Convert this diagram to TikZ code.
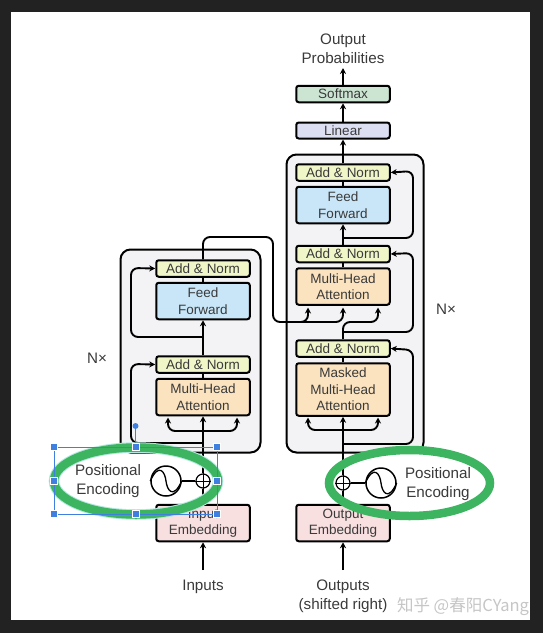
\documentclass[tikz,border=0pt]{standalone}
\usepackage{fontspec}
\setmainfont{Liberation Sans}
\newfontfamily\cjk{Noto Sans CJK SC}
\usepackage{xcolor}
\usetikzlibrary{arrows.meta,positioning,calc,shapes.geometric}
\definecolor{frameC}{HTML}{222222}
\definecolor{textC}{HTML}{3A3A3A}
\definecolor{normC}{HTML}{F0F6C8}
\definecolor{feedC}{HTML}{C8E6F8}
\definecolor{attnC}{HTML}{FBE3BF}
\definecolor{embC}{HTML}{F8DFE0}
\definecolor{softC}{HTML}{CBE5D2}
\definecolor{linC}{HTML}{DCDFF1}
\definecolor{stackC}{HTML}{F3F3F5}
\definecolor{ringC}{HTML}{3DB560}
\definecolor{haloC}{HTML}{B5E8E0}
\definecolor{handC}{HTML}{3F7FE0}

\begin{document}
\begin{tikzpicture}[
  x=1pt, y=-1pt,
  block/.style={draw=black, line width=2pt, rounded corners=2.5pt, minimum width=93.5pt, inner sep=0pt, align=center, text=textC, font=\fontsize{13.5}{16.5}\selectfont},
  norm/.style={block, fill=normC, minimum height=16.5pt},
  feed/.style={block, fill=feedC, minimum height=36.5pt},
  attn/.style={block, fill=attnC, minimum height=36.5pt},
  emb/.style={block, fill=embC, minimum height=36.5pt},
  stack/.style={draw=black, line width=2pt, rounded corners=10pt, fill=stackC, inner sep=0pt},
  lab/.style={align=center, text=textC, inner sep=0pt, font=\fontsize{15.2}{19}\selectfont},
  osc/.style={circle, draw=black, line width=1.5pt, minimum size=30pt, inner sep=0pt},
  addc/.style={circle, draw=black, line width=1.2pt, minimum size=14pt, inner sep=0pt},
  ring/.style={ellipse, draw=ringC, line width=8.5pt, inner sep=0pt},
  hand/.style={rectangle, fill=handC, draw=white, line width=0.4pt, minimum size=7pt, inner sep=0pt},
  arrow/.style={-{Stealth[length=6pt,width=6pt]}, line width=2.2pt},
  branch/.style={arrow, line width=1.9pt, rounded corners=7pt},
  wire/.style={line width=2.2pt}
]
\useasboundingbox (0,0) rectangle (543,633);
\fill[frameC] (0,0) rectangle (543,633);
\fill[white] (11,12) rectangle (530,620);

% stacks
\node[stack, minimum width=140pt, minimum height=203pt] (estack) at (190.5,351) {};
\node[stack, minimum width=137pt, minimum height=298pt] (dstack) at (355,303.5) {};

% encoder
\node[emb] (eemb) at (203,523) {Input\\Embedding};
\node[attn] (emha) at (203,397) {Multi-Head\\Attention};
\node[norm, above=4pt of emha] (eadd1) {Add \& Norm};
\node[feed] (eff) at (203,301) {Feed\\Forward};
\node[norm, above=4pt of eff] (eadd2) {Add \& Norm};

% decoder
\node[emb] (demb) at (343,523) {Output\\Embedding};
\node[attn, minimum height=52.5pt] (dmask) at (343,389.5) {Masked\\Multi-Head\\Attention};
\node[norm, above=4.5pt of dmask] (dadd1) {Add \& Norm};
\node[attn] (dmha) at (343,286.5) {Multi-Head\\Attention};
\node[norm, above=4pt of dmha] (dadd2) {Add \& Norm};
\node[feed] (dff) at (343,205) {Feed\\Forward};
\node[norm, above=4pt of dff] (dadd3) {Add \& Norm};
\node[block, fill=linC, minimum height=16pt] (linear) at (343,130.5) {Linear};
\node[block, fill=softC, minimum height=16.5pt] (softmax) at (343,94) {Softmax};

% labels
\node[lab] (outp) at (343,48.5) {Output\\Probabilities};
\node[lab] (inp) at (203,586.5) {Inputs};
\node[lab] (outs) at (343,596) {Outputs\\(shifted right)};
\node[lab] (enx) at (97,358) {N×};
\node[lab] (dnx) at (446,309) {N×};
\node[lab] (epos) at (108,481) {Positional\\Encoding};
\node[lab] (dpos) at (438,484) {Positional\\Encoding};
\node[text=gray!45, inner sep=0pt, font=\cjk\fontsize{16.5}{18}\selectfont] (mark) at (463,607) {知乎 @春阳CYang};

% positional encoding
\node[addc] (eplus) at (203,481) {};
\node[osc] (esin) at (166,481) {};
\node[addc] (dplus) at (343,483) {};
\node[osc] (dsin) at (381,483) {};
\foreach \c in {eplus, dplus} {
  \draw[line width=0.9pt] (\c.north) -- (\c.south) (\c.west) -- (\c.east);
}
\foreach \c in {esin, dsin} {
  \draw[line width=1.3pt] (\c.west) .. controls ($(\c.center)+(-7,-19)$) and ($(\c.center)+(-1,-9)$) .. (\c.center) .. controls ($(\c.center)+(1,9)$) and ($(\c.center)+(7,19)$) .. (\c.east);
}
\draw[wire] (esin) -- (eplus);
\draw[wire] (dplus) -- (dsin);

% encoder wires
\coordinate (etap1) at (203,443);
\coordinate (etap2) at (203,337);
\coordinate (esplit) at (203,431);
\coordinate (ein) at (203,570);
\coordinate (ehead) at (203,237);
\coordinate (bend) at (273,322);
\draw[arrow] (ein) -- (eemb);
\draw[wire] (eemb) -- (eplus);
\draw[arrow] (eplus) -- (emha);
\draw[branch] (esplit) -- (237,431) -- (237,417.5);
\draw[branch] (esplit) -- (168,431) -- (168,417.5);
\draw[branch] (etap1) -- (131,443) -- (131,364) -- (eadd1.west);
\draw[wire] (emha) -- (eadd1);
\draw[arrow] (eadd1) -- (eff);
\draw[branch] (etap2) -- (131,337) -- (131,268) -- (eadd2.west);
\draw[wire] (eff) -- (eadd2);
\draw[branch, rounded corners=7pt] (eadd2.north) -- (ehead) -- (273,237) -- (bend) -- (308,322) -- (308,307.5);
\draw[branch] (300,322) -- (343,322) -- (343,307.5);

% decoder wires
\coordinate (dtap1) at (343,444);
\coordinate (dtap2) at (343,332);
\coordinate (dtap3) at (343,238);
\coordinate (dsplit) at (343,430);
\coordinate (din) at (343,570);
\draw[arrow] (din) -- (demb);
\draw[wire] (demb) -- (dplus);
\draw[arrow] (dplus) -- (dmask);
\draw[branch] (dsplit) -- (308,430) -- (308,417.5);
\draw[branch] (dsplit) -- (378,430) -- (378,417.5);
\draw[branch] (dtap1) -- (413,444) -- (413,350) -- (dadd1.east);
\draw[wire] (dmask) -- (dadd1);
\draw[wire] (dadd1) -- (dtap2);
\draw[branch] (dtap2) -- (413,332) -- (413,253) -- (dadd2.east);
\draw[branch] (dtap2) -- (343,322) -- (378,322) -- (378,307.5);
\draw[wire] (dmha) -- (dadd2);
\draw[arrow] (dadd2) -- (dff);
\draw[branch] (dtap3) -- (413,238) -- (413,171) -- (dadd3.east);
\draw[wire] (dff) -- (dadd3);
\draw[arrow] (dadd3) -- (linear);
\draw[arrow] (linear) -- (softmax);
\coordinate (dout) at (343,68);
\draw[arrow] (softmax) -- (dout);

% highlights
\node[ellipse, draw=haloC, line width=10.5pt, minimum width=164pt, minimum height=67pt, inner sep=0pt] (ehalo) at (136,481) {};
\node[ring, minimum width=164pt, minimum height=67pt] (ering) at (136,481) {};
\node[ring, minimum width=161pt, minimum height=66pt] (dring) at (409.5,483) {};

% selection handles
\draw[handC, line width=0.7pt] (54,447) rectangle (217,514);
\foreach \n/\x/\y in {h1/54/447, h2/135.5/447, h3/217/447, h4/54/481, h5/217/481, h6/54/514, h7/135.5/514, h8/217/514} {
  \node[hand] (\n) at (\x,\y) {};
}
\node[circle, fill=handC, minimum size=6pt, inner sep=0pt] (hrot) at (135.5,426) {};
\draw[handC, line width=0.7pt] (hrot) -- (h2);
\end{tikzpicture}
\end{document}
